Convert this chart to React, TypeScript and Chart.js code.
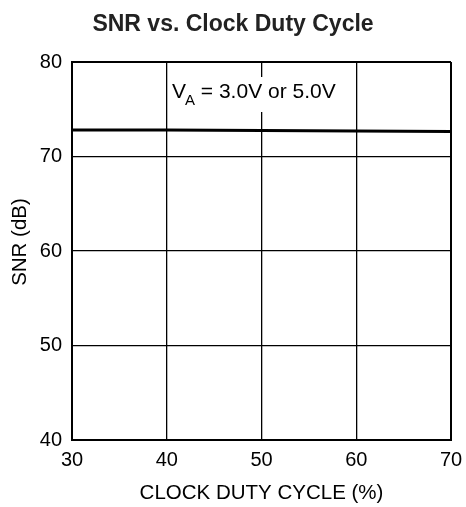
import React, { useEffect, useRef } from "react";
import { Chart, registerables } from "chart.js";

Chart.register(...registerables);

const dutyCycle = [30, 40, 50, 60, 70];
const snrValues = [72.8, 72.8, 72.75, 72.7, 72.65];
const xTickValues = [30, 40, 50, 60, 70];
const yTickValues = [40, 50, 60, 70, 80];

const chartTitle = "SNR vs. Clock Duty Cycle";
const xAxisTitle = "CLOCK DUTY CYCLE (%)";
const yAxisTitle = "SNR (dB)";
const noteMain = "V";
const noteSub = "A";
const noteRest = " = 3.0V or 5.0V";

const FONT = '"Liberation Sans", Arial, Helvetica, sans-serif';

const textPlugin = {
  id: "textPlugin",
  afterDatasetsDraw(chart: any) {
    const { ctx, chartArea } = chart;
    ctx.save();
    const x0 = chartArea.left + 100;
    const base = chartArea.top + 36;
    ctx.font = `21px ${FONT}`;
    const wV = ctx.measureText(noteMain).width;
    ctx.font = `15px ${FONT}`;
    const wA = ctx.measureText(noteSub).width;
    ctx.font = `21px ${FONT}`;
    const wR = ctx.measureText(noteRest).width;
    const total = wV + wA + wR;
    ctx.fillStyle = "#fff";
    ctx.fillRect(x0 - 3, chartArea.top + 15, total + 6, 35);
    ctx.fillStyle = "#000";
    ctx.textBaseline = "alphabetic";
    ctx.textAlign = "left";
    ctx.font = `21px ${FONT}`;
    ctx.fillText(noteMain, x0, base);
    ctx.font = `15px ${FONT}`;
    ctx.fillText(noteSub, x0 + wV - 1, base + 7);
    ctx.font = `21px ${FONT}`;
    ctx.fillText(noteRest, x0 + wV + wA - 1, base);
    ctx.restore();
  },
  afterDraw(chart: any) {
    const { ctx, chartArea, width } = chart;
    ctx.save();
    ctx.fillStyle = "#222";
    ctx.textAlign = "center";
    ctx.textBaseline = "alphabetic";
    ctx.font = `bold 23px ${FONT}`;
    ctx.fillText(chartTitle, width / 2, 31);
    ctx.fillStyle = "#000";
    ctx.font = `20.5px ${FONT}`;
    ctx.textBaseline = "middle";
    ctx.fillText(xAxisTitle, (chartArea.left + chartArea.right) / 2, chartArea.bottom + 53);
    ctx.translate(20, (chartArea.top + chartArea.bottom) / 2 - 9);
    ctx.rotate(-Math.PI / 2);
    ctx.fillText(yAxisTitle, 0, 0);
    ctx.restore();
  },
};

export default function App() {
  const ref = useRef<HTMLCanvasElement>(null);
  useEffect(() => {
    if (!ref.current) return;
    const gridWidth = (c: any) => {
      const n = c.scale ? c.scale.ticks.length : 0;
      return c.index === 0 || c.index === n - 1 ? 2 : 1.3;
    };
    const chart = new Chart(ref.current, {
      type: "line",
      data: {
        datasets: [
          {
            data: dutyCycle.map((x, i) => ({ x, y: snrValues[i] })),
            borderColor: "#000",
            borderWidth: 3,
            pointRadius: 0,
            tension: 0,
          },
        ],
      },
      options: {
        animation: false,
        responsive: false,
        devicePixelRatio: 1,
        layout: { padding: { top: 62, right: 15, left: 0, bottom: 0 } },
        plugins: { legend: { display: false }, title: { display: false }, tooltip: { enabled: false } },
        scales: {
          x: {
            type: "linear",
            min: xTickValues[0],
            max: xTickValues[xTickValues.length - 1],
            afterBuildTicks: (s: any) => {
              s.ticks = xTickValues.map((v) => ({ value: v }));
            },
            afterFit: (s: any) => {
              s.height = 67;
              s.paddingLeft = 0;
              s.paddingRight = 0;
            },
            ticks: {
              color: "#000",
              font: { family: FONT, size: 20 },
              padding: 8,
              maxRotation: 0,
            },
            grid: { color: "#000", lineWidth: gridWidth, drawTicks: false },
            border: { color: "#000", width: 2 },
          },
          y: {
            type: "linear",
            min: yTickValues[0],
            max: yTickValues[yTickValues.length - 1],
            afterBuildTicks: (s: any) => {
              s.ticks = yTickValues.map((v) => ({ value: v }));
            },
            afterFit: (s: any) => {
              s.width = 72;
              s.paddingTop = 0;
              s.paddingBottom = 0;
            },
            ticks: {
              color: "#000",
              font: { family: FONT, size: 20 },
              padding: 10,
            },
            grid: { color: "#000", lineWidth: gridWidth, drawTicks: false },
            border: { color: "#000", width: 2 },
          },
        },
      },
      plugins: [textPlugin],
    } as any);
    return () => chart.destroy();
  }, []);
  return (
    <div style={{ position: "fixed", left: 0, top: 0, width: 466, height: 507, background: "#fff" }}>
      <canvas ref={ref} width={466} height={507} />
    </div>
  );
}
